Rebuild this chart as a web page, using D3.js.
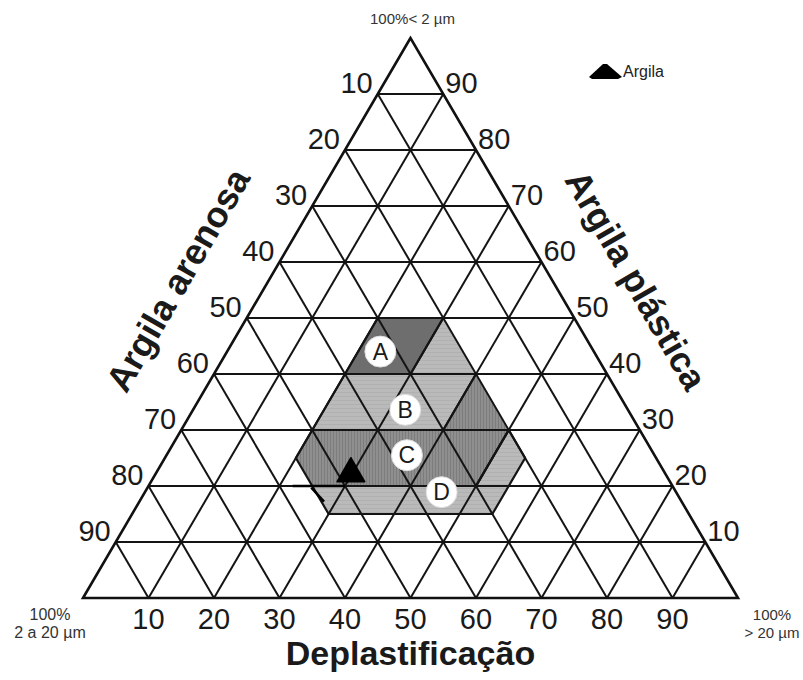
<!DOCTYPE html>
<html><head><meta charset="utf-8">
<script src="https://cdn.jsdelivr.net/npm/d3@7"></script>
<style>
body{margin:0;background:#fff}
svg{display:block}
text{font-family:"Liberation Sans",Arial,sans-serif;fill:#1a1a1a}
</style>
</head><body>
<svg id="chart" width="803" height="680"></svg>
<script>
// ---------- data (ternary: a = % < 2 µm, b = % > 20 µm, c = % 2-20 µm) ----------
const gridSteps = [0.1,0.2,0.3,0.4,0.5,0.6,0.7,0.8,0.9];
const leftTickLabels = ["10","20","30","40","50","60","70","80","90"];   // 2-20 µm
const rightTickLabels = ["90","80","70","60","50","40","30","20","10"];  // < 2 µm
const bottomTickLabels = ["10","20","30","40","50","60","70","80","90"]; // > 20 µm

// region polygons as [a, b] pairs
const regionA      = [[0.5,0.2],[0.5,0.3],[0.4,0.3],[0.4,0.2]];
const regionLightA = [[0.5,0.3],[0.4,0.3],[0.4,0.4]];
const regionB      = [[0.4,0.2],[0.4,0.4],[0.3,0.4],[0.3,0.2]];
const regionDarkB  = [[0.4,0.4],[0.3,0.4],[0.3,0.5]];
const regionC      = [[0.3,0.2],[0.3,0.5],[0.2,0.5],[0.2,0.25],[0.25,0.2]];
const regionLightC = [[0.3,0.5],[0.25,0.55],[0.2,0.55],[0.2,0.5]];
const regionD      = [[0.2,0.25],[0.2,0.55],[0.15,0.55],[0.15,0.3]];

const regionLetters = ["A","B","C","D"];
const regionLetterPos = [[0.44,0.234],[0.336,0.324],[0.255,0.367],[0.189,0.453]];

const sampleName = "Argila";
const samplePoint = [0.222, 0.298];
const sampleMarks = [[[0.2,0.22],[0.2,0.30]], [[0.197,0.25],[0.172,0.282]]];

const topCornerLabel = "100%< 2 µm";
const leftCornerLabel = ["100%","2 a 20 µm"];
const rightCornerLabel = ["100%","> 20 µm"];
const leftAxisTitle = "Argila arenosa";
const rightAxisTitle = "Argila plástica";
const bottomAxisTitle = "Deplastificação";

// ---------- scales ----------
const svg = d3.select("#chart");
const xS = d3.scaleLinear().domain([0,1]).range([83,738]);
const yS = d3.scaleLinear().domain([0,1]).range([598,38]);
const P = (a,b) => [xS(b + a/2), yS(a)];
const line = d3.line().x(d=>P(d[0],d[1])[0]).y(d=>P(d[0],d[1])[1]);
const poly = pts => line(pts) + "Z";

// patterns
const defs = svg.append("defs");
const pv = defs.append("pattern").attr("id","vhatch").attr("patternUnits","userSpaceOnUse")
  .attr("width",3).attr("height",3);
pv.append("rect").attr("width",3).attr("height",3).attr("fill","#8f8f8f");
pv.append("rect").attr("width",1).attr("height",3).attr("fill","#7c7c7c");
const ph = defs.append("pattern").attr("id","hhatch").attr("patternUnits","userSpaceOnUse")
  .attr("width",4).attr("height",4);
ph.append("rect").attr("width",4).attr("height",4).attr("fill","#bababa");
ph.append("rect").attr("width",4).attr("height",1).attr("fill","#b0b0b0");

// ---------- fills ----------
const fills = [
  {pts: regionA, fill: "#6e6e6e"},
  {pts: regionLightA, fill: "url(#hhatch)"},
  {pts: regionB, fill: "url(#hhatch)"},
  {pts: regionDarkB, fill: "url(#vhatch)"},
  {pts: regionC, fill: "url(#vhatch)"},
  {pts: regionLightC, fill: "url(#hhatch)"},
  {pts: regionD, fill: "url(#hhatch)"}
];
svg.append("g").selectAll("path").data(fills).join("path")
  .attr("d", d=>poly(d.pts)).attr("fill", d=>d.fill).attr("stroke","none");

// ---------- grid ----------
const g = svg.append("g").attr("stroke","#141414").attr("stroke-width",2).attr("fill","none");
gridSteps.forEach(t=>{
  g.append("path").attr("d", line([[t,0],[t,1-t]]));      // const a
  g.append("path").attr("d", line([[0,t],[1-t,t]]));      // const b
  g.append("path").attr("d", line([[0,1-t],[1-t,0]]));    // const c
});
// region outlines
svg.append("g").selectAll("path").data([regionA, regionC, regionD, regionLightC, regionB])
  .join("path").attr("d", poly).attr("fill","none").attr("stroke","#141414")
  .attr("stroke-width",2.2).attr("stroke-linejoin","round");
// outer triangle
svg.append("path").attr("d", poly([[1,0],[0,0],[0,1]]))
  .attr("fill","none").attr("stroke","#111").attr("stroke-width",2.6).attr("stroke-linejoin","miter");

// ---------- sample ----------
svg.append("g").selectAll("path").data(sampleMarks).join("path")
  .attr("d", line).attr("stroke","#000").attr("stroke-width",2.5).attr("fill","none");
const sp = P(samplePoint[0], samplePoint[1]);
svg.append("path").attr("d", d3.symbol(d3.symbolTriangle, 330)())
  .attr("transform", `translate(${sp[0]},${sp[1]})`).attr("fill","#000")
  .attr("stroke","#000").attr("stroke-width",1.5).attr("stroke-linejoin","round");

// ---------- region letters ----------
const lg = svg.append("g").selectAll("g").data(regionLetters).join("g")
  .attr("transform",(d,i)=>{const p=P(regionLetterPos[i][0],regionLetterPos[i][1]);return `translate(${p[0]},${p[1]})`;});
lg.append("circle").attr("r",15.5).attr("fill","#fff").attr("stroke","#ddd").attr("stroke-width",1);
lg.append("text").text(d=>d).attr("text-anchor","middle").attr("dy","0.36em")
  .attr("font-size",23);

// ---------- tick labels ----------
svg.append("g").selectAll("text").data(leftTickLabels).join("text")
  .text(d=>d).attr("font-size",29).attr("text-anchor","end").attr("dominant-baseline","central")
  .attr("x",(d,i)=>P(1-gridSteps[i],0)[0]-5).attr("y",(d,i)=>P(1-gridSteps[i],0)[1]-11);
svg.append("g").selectAll("text").data(rightTickLabels).join("text")
  .text(d=>d).attr("font-size",29).attr("text-anchor","start").attr("dominant-baseline","central")
  .attr("x",(d,i)=>P(1-gridSteps[i],gridSteps[i])[0]+2).attr("y",(d,i)=>P(1-gridSteps[i],gridSteps[i])[1]-11);
svg.append("g").selectAll("text").data(bottomTickLabels).join("text")
  .text(d=>d).attr("font-size",29).attr("text-anchor","middle")
  .attr("x",(d,i)=>P(0,gridSteps[i])[0]).attr("y",(d,i)=>P(0,gridSteps[i])[1]+31);

// ---------- corner labels ----------
const apex = P(1,0);
svg.append("text").text(topCornerLabel).attr("x",apex[0]+2).attr("y",apex[1]-14)
  .attr("text-anchor","middle").attr("font-size",15).style("fill","#333");
const bl = P(0,0), br = P(0,1);
svg.append("g").selectAll("text").data(leftCornerLabel).join("text").text(d=>d)
  .attr("x",bl[0]-33).attr("y",(d,i)=>bl[1]+22+i*18).attr("text-anchor","middle")
  .attr("font-size",16).style("fill","#333");
svg.append("g").selectAll("text").data(rightCornerLabel).join("text").text(d=>d)
  .attr("x",br[0]+34).attr("y",(d,i)=>br[1]+22+i*18).attr("text-anchor","middle")
  .attr("font-size",15).style("fill","#333");

// ---------- axis titles ----------
svg.append("text").text(leftAxisTitle).attr("font-size",36).attr("font-weight","bold")
  .attr("text-anchor","middle").attr("dominant-baseline","central")
  .attr("transform","translate(178,280) rotate(-60)");
svg.append("text").text(rightAxisTitle).attr("font-size",36).attr("font-weight","bold")
  .attr("text-anchor","middle").attr("dominant-baseline","central")
  .attr("transform","translate(636,280) rotate(60)");
svg.append("text").text(bottomAxisTitle).attr("font-size",34).attr("font-weight","bold")
  .attr("text-anchor","middle").attr("x",(bl[0]+br[0])/2).attr("y",665);

// ---------- legend ----------
const legend = svg.append("g").attr("transform","translate(605,70)");
legend.append("path").attr("d","M-16,7 L-2,-6 L2,-6 L17,7 L13,9 L-13,9 Z").attr("fill","#000");
legend.append("text").text(sampleName).attr("x",18).attr("y",7).attr("font-size",16).style("fill","#222");
</script>
</body></html>
